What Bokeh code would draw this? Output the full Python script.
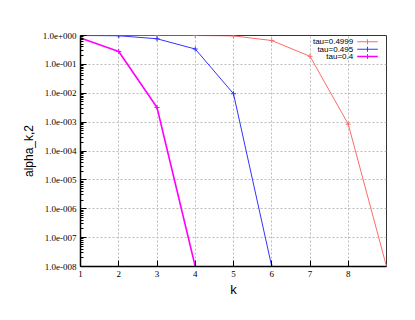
from bokeh.plotting import figure
from bokeh.embed import file_html
from bokeh.resources import INLINE
from bokeh.models import FixedTicker, CustomJSTickFormatter, Range1d, Label, BoxAnnotation

k = [1, 2, 3, 4, 5, 6, 7, 8, 9]
tau_4999 = [1.0, 1.0, 1.0, 1.0, 0.97, 0.67, 0.19, 8.5e-4, 1e-8]
k_495 = [1, 2, 3, 4, 5, 6]
tau_495 = [1.0, 0.98, 0.77, 0.34, 9.6e-3, 1e-8]
k_4 = [1, 2, 3, 4]
tau_4 = [0.82, 0.28, 3.2e-3, 1e-8]

series = [
    ("tau=0.4999", k, tau_4999, "#ff6a6a", 1),
    ("tau=0.495", k_495, tau_495, "#3333ff", 1),
    ("tau=0.4", k_4, tau_4, "#ff00ff", 1.6),
]

x_ticks = [1, 2, 3, 4, 5, 6, 7, 8]
y_ticks = [10.0 ** e for e in range(-8, 1)]
y_minor = [m * 10.0 ** e for e in range(-8, 0) for m in range(2, 10)]

W, H = 403, 312
p = figure(width=W, height=H, y_axis_type="log", output_backend="svg",
           toolbar_location=None, x_range=Range1d(1, 9), y_range=Range1d(1e-8, 1.0),
           min_border_left=80, min_border_top=35, min_border_right=17, min_border_bottom=46,
           x_axis_label="k", y_axis_label="alpha_k,2")
p.background_fill_color = "white"
p.border_fill_color = "white"
p.outline_line_color = "#333333"
p.outline_line_width = 1

p.xaxis.ticker = FixedTicker(ticks=x_ticks)
p.yaxis.ticker = FixedTicker(ticks=y_ticks, minor_ticks=y_minor)
p.yaxis.formatter = CustomJSTickFormatter(code="""
const e = Math.round(Math.log10(tick));
const s = e < 0 ? '-' : '+';
const a = String(Math.abs(e)).padStart(3, '0');
return '1.0e' + s + a;
""")

for ax in (p.xaxis[0], p.yaxis[0]):
    ax.major_label_text_font = "Liberation Serif"
    ax.major_label_text_font_size = "9px"
    ax.major_label_text_color = "black"
    ax.axis_label_text_font = "Liberation Sans"
    ax.axis_label_text_font_style = "normal"
    ax.axis_label_text_color = "black"
    ax.axis_line_color = "black"
    ax.axis_line_width = 1.5
    ax.major_tick_in = 6
    ax.major_tick_out = 0
    ax.minor_tick_in = 3
    ax.minor_tick_out = 0
    ax.major_tick_line_color = "black"
    ax.minor_tick_line_color = "black"
    ax.major_label_standoff = 4

p.xaxis.axis_label_text_font_size = "13px"
p.yaxis.axis_label_text_font_size = "12px"
p.xaxis.axis_label_standoff = 2
p.yaxis.axis_label_standoff = 4
p.xaxis.minor_tick_line_color = None

p.grid.grid_line_color = "#bbbbbb"
p.grid.grid_line_dash = "2 2"
p.grid.grid_line_width = 1

for name, xs, ys, col, lw in series:
    p.line(xs, ys, line_color=col, line_width=lw)
    p.scatter(xs, ys, marker="cross", size=5, line_color=col, line_width=1)

# custom legend (text right, sample line on the right), screen units relative to frame
rows_y = [224.7, 217.3, 210.0]
for (name, xs, ys, col, lw), ry in zip(series, rows_y):
    p.add_layout(Label(x=272.7, y=ry, x_units="screen", y_units="screen", text=name,
                       text_align="right", text_baseline="middle", text_font="Liberation Sans",
                       text_font_size="8px", text_color="black"))
    p.add_layout(BoxAnnotation(left=276.7, right=297.3, top=ry + lw / 2, bottom=ry - lw / 2,
                               left_units="screen", right_units="screen", top_units="screen",
                               bottom_units="screen", fill_color=col, fill_alpha=1,
                               line_color=None))
    p.add_layout(BoxAnnotation(left=286.5, right=287.5, top=ry + 2.5, bottom=ry - 2.5,
                               left_units="screen", right_units="screen", top_units="screen",
                               bottom_units="screen", fill_color=col, fill_alpha=1,
                               line_color=None))

open("out.html", "w").write(file_html(p, INLINE))
